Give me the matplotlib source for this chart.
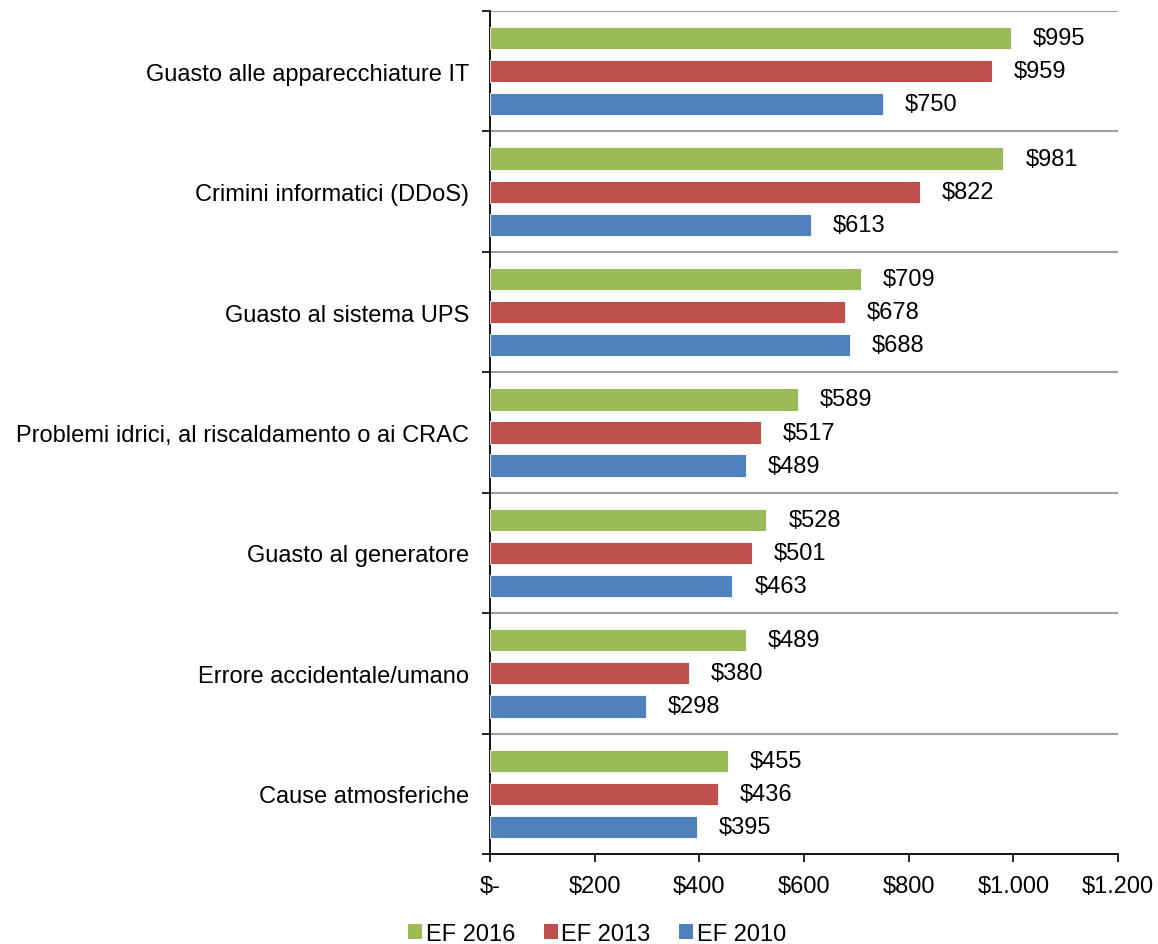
import matplotlib
matplotlib.use("Agg")
import matplotlib.pyplot as plt
import numpy as np
from matplotlib.patches import Patch

categories = ["Guasto alle apparecchiature IT", "Crimini informatici (DDoS)",
              "Guasto al sistema UPS", "Problemi idrici, al riscaldamento o ai CRAC",
              "Guasto al generatore", "Errore accidentale/umano", "Cause atmosferiche"]
ef2016 = [995, 981, 709, 589, 528, 489, 455]
ef2013 = [959, 822, 678, 517, 501, 380, 436]
ef2010 = [750, 613, 688, 489, 463, 298, 395]
series_names = ["EF 2016", "EF 2013", "EF 2010"]
colors = ["#9BBB59", "#C0504D", "#4F81BD"]
xticks = [0, 200, 400, 600, 800, 1000, 1200]
xticklabels = ["$-", "$200", "$400", "$600", "$800", "$1.000", "$1.200"]

plt.rcParams['font.family'] = ['Liberation Sans', 'DejaVu Sans']
fs = 17

fig = plt.figure(figsize=(11.58, 9.45), dpi=100)
ax = fig.add_axes([490/1158, 1-855/945, (1118-490)/1158, (855-12)/945])

n = len(categories)
centers = np.arange(n)[::-1] + 0.5  # top category at top
off = 0.275
h = 0.185
for vals, c, dy in zip([ef2016, ef2013, ef2010], colors, [off, 0, -off]):
    ys = centers + dy
    ax.barh(ys, vals, height=h, color=c, edgecolor='white', linewidth=0.6, zorder=3)
    for y, v in zip(ys, vals):
        ax.text(v + 42, y, f"${v}", va='center', ha='left', fontsize=fs, color='black')

ax.set_xlim(0, 1200)
ax.set_ylim(0, n)
ax.set_xticks(xticks)
ax.set_xticklabels(xticklabels, fontsize=fs)
ax.set_yticks(np.arange(n + 1))
ax.set_yticklabels([])
ax.set_yticks(centers, minor=True)
ax.set_yticklabels(categories, minor=True, fontsize=fs)
ax.tick_params(axis='y', which='minor', length=0, pad=15)
ax.tick_params(axis='y', which='major', length=6, width=1.2, direction='out')
ax.tick_params(axis='x', length=6, width=1.2, direction='out', pad=9)
for yv in range(1, n + 1):
    ax.axhline(yv, color='#A0A0A0', linewidth=1.5, zorder=1)
for s in ['top', 'right']:
    ax.spines[s].set_visible(False)
ax.spines['left'].set_linewidth(1.3)
ax.spines['bottom'].set_linewidth(1.3)

handles = [Patch(facecolor=c, label=s) for c, s in zip(colors, series_names)]
fig.legend(handles=handles, loc='center', bbox_to_anchor=(597/1158, 1-935/945),
           ncol=3, frameon=False, fontsize=fs, handlelength=0.6, handleheight=0.6,
           handletextpad=0.15, columnspacing=1.2)

fig.savefig("out.png", dpi=100)
